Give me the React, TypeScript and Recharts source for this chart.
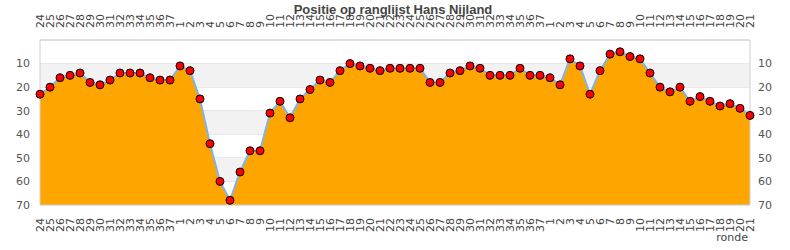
import React from 'react';
import { AreaChart, Area, XAxis, YAxis, CartesianGrid, ReferenceArea } from 'recharts';

// rondes over drie seizoenen
const rondesA = ['24', '25', '26', '27', '28', '29', '30', '31', '32', '33', '34', '35', '36', '37'];
const rondesB = ['1', '2', '3', '4', '5', '6', '7', '8', '9', '10', '11', '12', '13', '14', '15', '16', '17', '18', '19', '20', '21', '22', '23', '24', '25', '26', '27', '28', '29', '30', '31', '32', '33', '34', '35', '36', '37'];
const rondesC = ['1', '2', '3', '4', '5', '6', '7', '8', '9', '10', '11', '12', '13', '14', '15', '16', '17', '18', '19', '20', '21'];

const posities = [
    23, 20, 16, 15, 14, 18, 19, 17, 14, 14, 14, 16, 17, 17,
    11, 13, 25, 44, 60, 68, 56, 47, 47, 31, 26, 33, 25, 21, 17, 18, 13, 10, 11, 12, 13, 12, 12, 12, 12, 18, 18, 14, 13, 11, 12, 15, 15, 15, 12, 15, 15,
    16, 19, 8, 11, 23, 13, 6, 5, 7, 8, 14, 20, 22, 20, 26, 24, 26, 28, 27, 29, 32,
];

const yTicks = [10, 20, 30, 40, 50, 60, 70];
const bands = [[10, 20], [30, 40], [50, 60]];

const rondes = [...rondesA, ...rondesB, ...rondesC];
const data = rondes.map((ronde, i) => ({ ronde, positie: posities[i] }));

const FONT = '"DejaVu Sans", sans-serif';

const TopTick = (props: any) => {
    const { x, y, payload } = props;
    return (
        <text x={x} y={y} dy="0.35em" transform={`rotate(-90, ${x}, ${y})`} textAnchor="start"
            fontSize={11} fontFamily={FONT} fill="#444">
            {payload.value}
        </text>
    );
};

const BottomTick = (props: any) => {
    const { x, y, payload } = props;
    return (
        <text x={x} y={y} dy="0.35em" transform={`rotate(-90, ${x}, ${y})`} textAnchor="end"
            fontSize={11} fontFamily={FONT} fill="#444">
            {payload.value}
        </text>
    );
};

const Dot = (props: any) => {
    const { cx, cy } = props;
    if (cx == null || cy == null) return null;
    return <circle cx={cx} cy={cy} r={4} fill="#ff0000" stroke="#000" strokeWidth={1} />;
};

const App: React.FC = () => {
    return (
        <div style={{ position: 'absolute', left: 0, top: 0, width: 790, height: 250, background: '#fff' }}>
            <div style={{
                position: 'absolute', left: 0, top: 2, width: 786, textAlign: 'center',
                fontFamily: '"Liberation Sans", sans-serif', fontWeight: 'bold', fontSize: 13, color: '#444',
            }}>
                Positie op ranglijst Hans Nijland
            </div>
            <AreaChart width={790} height={250} data={data} margin={{ top: 0, right: 0, bottom: 0, left: 0 }}>
                {bands.map(([a, b]) => (
                    <ReferenceArea key={a} xAxisId="b" yAxisId="l" y1={a} y2={b} fill="#f2f2f2" fillOpacity={1} stroke="none" />
                ))}
                <CartesianGrid xAxisId="b" yAxisId="l" vertical={false} stroke="#dddddd" />
                <XAxis xAxisId="t" orientation="top" dataKey="ronde" height={40} interval={0}
                    tickLine={false} tickSize={0} tickMargin={12} axisLine={{ stroke: '#d0d0d0' }} tick={<TopTick />} />
                <XAxis xAxisId="b" dataKey="ronde" height={45} interval={0}
                    tickLine={false} tickSize={0} tickMargin={13} axisLine={{ stroke: '#d0d0d0' }} tick={<BottomTick />} />
                <YAxis yAxisId="l" width={40} reversed domain={[0, 70]} ticks={yTicks} type="number"
                    tickLine={false} tickSize={6} tickMargin={4} axisLine={{ stroke: '#d0d0d0' }}
                    tick={{ fontSize: 11, fontFamily: FONT, fill: '#555' }} />
                <YAxis yAxisId="r" orientation="right" width={40} reversed domain={[0, 70]} ticks={yTicks} type="number"
                    tickLine={false} tickSize={6} tickMargin={2} axisLine={{ stroke: '#d0d0d0' }}
                    tick={{ fontSize: 11, fontFamily: FONT, fill: '#555' }} />
                <Area xAxisId="t" yAxisId="r" type="linear" dataKey="positie" baseValue="dataMax"
                    fill="none" stroke="none" dot={false} activeDot={false} isAnimationActive={false} />
                <Area xAxisId="b" yAxisId="l" type="linear" dataKey="positie" baseValue="dataMax"
                    fill="#ffa500" fillOpacity={1} stroke="#80b3e6" strokeWidth={2}
                    dot={<Dot />} activeDot={false} isAnimationActive={false} />
            </AreaChart>
            <div style={{
                position: 'absolute', right: 42, top: 231, fontFamily: FONT, fontSize: 11, color: '#444',
            }}>
                ronde
            </div>
        </div>
    );
};

export default App;
